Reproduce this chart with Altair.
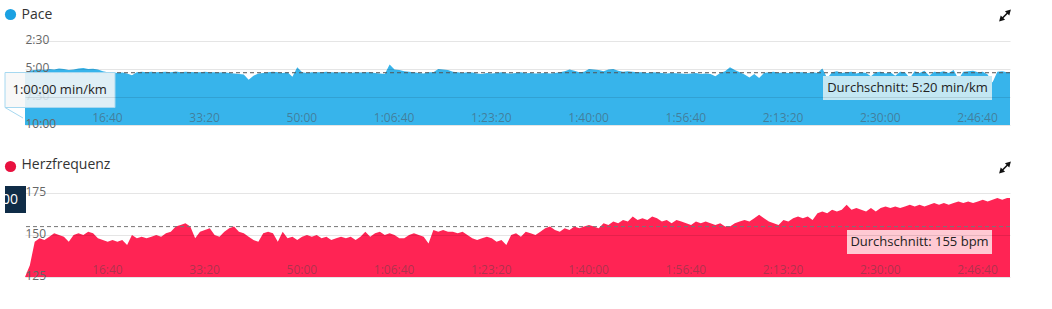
import json
import altair as alt
import pandas as pd

# ---------------- data ----------------
time_step_s = 50  # sampling step of the two series, seconds

pace_min_per_km = [
    5.30, 5.15, 5.10, 5.05, 5.10, 5.00, 5.05, 4.95, 5.00, 5.10,
    5.05, 4.95, 4.92, 5.00, 4.98, 5.05, 5.20, 5.30, 5.30, 5.35,
    5.32, 5.40, 5.55, 5.30, 5.25, 5.28, 5.25, 5.30, 5.27, 5.25,
    5.28, 5.22, 5.30, 5.25, 5.27, 5.30, 5.28, 5.25, 5.30, 5.28,
    5.32, 5.30, 5.35, 5.40, 5.45, 5.50, 5.95, 5.60, 5.40, 5.35,
    5.30, 5.25, 5.28, 5.35, 5.30, 5.70, 4.85, 5.30, 5.35, 5.30,
    5.28, 5.30, 5.25, 5.30, 5.32, 5.28, 5.30, 5.35, 5.30, 5.32,
    5.30, 5.28, 5.35, 5.40, 5.45, 4.60, 5.05, 5.10, 5.20, 5.25,
    5.30, 5.35, 5.40, 5.30, 5.28, 5.00, 5.05, 5.10, 5.25, 5.30,
    5.35, 5.30, 5.32, 5.40, 5.45, 5.35, 5.40, 5.35, 5.30, 5.38,
    5.40, 5.35, 5.30, 5.38, 5.35, 5.40, 5.38, 5.35, 5.40, 5.35,
    5.30, 5.20, 5.05, 5.15, 5.30, 5.25, 5.00, 5.05, 5.10, 5.20,
    5.05, 5.00, 5.15, 5.25, 5.20, 5.25, 5.30, 5.28, 5.35, 5.30,
    5.32, 5.35, 5.40, 5.35, 5.38, 5.40, 5.45, 5.40, 5.35, 5.45,
    5.40, 5.45, 5.65, 5.35, 5.20, 4.85, 5.10, 5.30, 5.50, 5.75,
    5.45, 5.80, 5.35, 5.30, 5.25, 5.35, 5.30, 5.35, 5.30, 5.28,
    5.30, 5.35, 5.30, 5.35, 4.95, 5.80, 5.30, 5.20, 5.35, 5.30,
    5.25, 5.40, 5.30, 5.35, 5.65, 5.30, 5.25, 5.40, 5.30, 5.60,
    5.25, 5.30, 5.80, 5.20, 5.35, 5.15, 5.60, 5.25, 5.30, 5.20,
    5.35, 5.10, 5.90, 5.25, 5.20, 5.15, 5.30, 5.25, 5.50, 6.20,
    5.25, 5.20, 5.30, 5.25,
]

heart_rate_bpm = [
    125, 132, 146, 148, 147, 149, 151, 150, 149, 146,
    150, 151, 150, 152, 151, 148, 147, 146, 147, 146,
    147, 144, 150, 148, 149, 148, 149, 150, 149, 151,
    152, 155, 156, 157, 155, 148, 152, 153, 154, 150,
    149, 152, 154, 155, 152, 151, 149, 147, 146, 151,
    152, 151, 146, 152, 148, 149, 147, 149, 150, 149,
    150, 148, 149, 147, 148, 149, 148, 149, 147, 149,
    152, 149, 151, 152, 150, 151, 150, 148, 148, 150,
    151, 150, 149, 145, 153, 152, 153, 152, 152, 151,
    152, 150, 148, 147, 148, 149, 148, 146, 147, 144,
    150, 151, 149, 152, 151, 150, 152, 154, 155, 153,
    152, 154, 153, 155, 154, 155, 156, 155, 154, 157,
    156, 158, 157, 159, 158, 161, 159, 160, 159, 161,
    160, 158, 159, 157, 159, 158, 157, 156, 158, 157,
    158, 157, 156, 157, 155, 155, 157, 158, 159, 158,
    160, 162, 160, 158, 157, 156, 159, 158, 160, 161,
    160, 161, 159, 163, 164, 163, 165, 164, 165, 168,
    165, 166, 165, 164, 166, 164, 166, 167, 166, 167,
    166, 167, 168, 167, 168, 167, 168, 169, 168, 169,
    168, 169, 170, 169, 170, 169, 170, 171, 170, 171,
    172, 171, 172, 172,
]

time_s = [i * time_step_s for i in range(len(pace_min_per_km))]

x_tick_values = [1000, 2000, 3000, 4000, 5000, 6000, 7000, 8000, 9000, 10000]
x_tick_labels = ["16:40", "33:20", "50:00", "1:06:40", "1:23:20",
                 "1:40:00", "1:56:40", "2:13:20", "2:30:00", "2:46:40"]
pace_tick_values = [2.5, 5.0, 7.5, 10.0]
pace_tick_labels = ["2:30", "5:00", "7:30", "10:00"]
pace_hidden_tick = 7.5  # label that sits behind the tooltip box
hr_tick_values = [125, 150, 175]
hr_tick_labels = ["125", "150", "175"]

pace_avg = 5 + 20 / 60
hr_avg = 155
pace_avg_label = "Durchschnitt: 5:20 min/km"
hr_avg_label = "Durchschnitt: 155 bpm"
tooltip_label = "1:00:00 min/km"

# ---------------- helpers ----------------
def key(v):
    return str(int(v)) if float(v).is_integer() else str(v)


def label_expr(values, labels):
    return json.dumps({key(v): l for v, l in zip(values, labels)}) + "[datum.value]"


FONT = "Open Sans"
W, H = 985, 84
BLUE = "#37b4eb"
RED = "#ff2454"

df = pd.DataFrame({"t": time_s, "pace": pace_min_per_km, "hr": heart_rate_bpm})
one = pd.DataFrame({"k": [0]})

x_scale = alt.Scale(domain=[0, 10130], nice=False, zero=False)


def x_axis(color, opacity):
    return alt.Axis(values=x_tick_values, labelExpr=label_expr(x_tick_values, x_tick_labels),
                    orient="bottom", domain=False, ticks=False, tickSize=0, grid=False,
                    labelAlign="right", labelBaseline="alphabetic", labelPadding=-4,
                    labelFont=FONT, labelFontSize=12, labelColor=color, labelOpacity=opacity,
                    labelFlush=False, labelOverlap=False, title=None, zindex=1)


def y_axis(values, labels, hidden=None):
    extra = {}
    if hidden is not None:
        extra["labelOpacity"] = {"condition": {"test": f"datum.value == {hidden}", "value": 0.12},
                                 "value": 1}
    return alt.Axis(values=values, labelExpr=label_expr(values, labels), orient="left",
                    domain=False, ticks=False, tickSize=0, labelPadding=0, labelAlign="left",
                    labelBaseline="middle", labelOffset=-2, grid=True, gridColor="#000000",
                    gridOpacity=0.1, labelFont=FONT, labelFontSize=12, labelColor="#666666",
                    labelFlush=False, labelOverlap=False, title=None, zindex=1, **extra)


def anchor(y):
    # 1px white mark that pins the outer bounds of the page layout
    return alt.Chart(one).mark_rect(color="white").encode(
        x=alt.value(-25), x2=alt.value(-24), y=alt.value(y), y2=alt.value(y + 1))


def header(title, dot_color, top=False):
    layers = []
    if top:
        layers.append(anchor(-41))
    layers.append(alt.Chart(one).mark_point(filled=True, color=dot_color, size=125, opacity=1).encode(
        x=alt.value(-14.5), y=alt.value(-26.5)))
    layers.append(alt.Chart(one).mark_text(text=title, font=FONT, fontSize=14, color="#333333",
                                           align="left", baseline="alphabetic").encode(
        x=alt.value(-3.5), y=alt.value(-22.5 if top else -24)))
    # expand icon
    layers.append(alt.Chart(one).mark_rule(color="#111111", strokeWidth=1.6).encode(
        x=alt.value(976), y=alt.value(-21.5), x2=alt.value(984), y2=alt.value(-29.5)))
    layers.append(alt.Chart(one).mark_point(shape="triangle-up", filled=True, color="#111111",
                                            size=38, angle=45, opacity=1).encode(
        x=alt.value(984), y=alt.value(-29.5)))
    layers.append(alt.Chart(one).mark_point(shape="triangle-up", filled=True, color="#111111",
                                            size=38, angle=225, opacity=1).encode(
        x=alt.value(976), y=alt.value(-21.5)))
    return layers


# ---------------- pace panel ----------------
pace_y_scale = alt.Scale(domain=[2.5, 10], reverse=True, nice=False, zero=False)
pace_y_axis = y_axis(pace_tick_values, pace_tick_labels, hidden=pace_hidden_tick)
pace_area = alt.Chart(df).mark_area(color=BLUE, interpolate="linear", clip=True).encode(
    x=alt.X("t:Q", scale=x_scale, axis=x_axis("#4a5a66", 0.6)),
    y=alt.Y("pace:Q", scale=pace_y_scale, axis=pace_y_axis),
    y2=alt.datum(10.0),
)
pace_avg_rule = alt.Chart(pd.DataFrame({"pace": [pace_avg]})).mark_rule(
    color="#555555", strokeDash=[4, 3], strokeWidth=1).encode(
    y=alt.Y("pace:Q", scale=pace_y_scale, axis=pace_y_axis))
pace_avg_box = alt.Chart(one).mark_rect(color="#c3e7f3").encode(
    x=alt.value(798), x2=alt.value(967), y=alt.value(35), y2=alt.value(59))
pace_avg_text = alt.Chart(one).mark_text(text=pace_avg_label, font=FONT, fontSize=13,
                                         color="#222222", align="center", baseline="middle").encode(
    x=alt.value(882.5), y=alt.value(47))
tip_box = alt.Chart(one).mark_rect(fill="#f7f7f7", fillOpacity=0.88, stroke="#a6d8f0",
                                   strokeWidth=1).encode(
    x=alt.value(-20), x2=alt.value(90), y=alt.value(31.5), y2=alt.value(66.5))
tip_ptr = alt.Chart(one).mark_rule(color="#a6d8f0", strokeWidth=1).encode(
    x=alt.value(-20), y=alt.value(66.5), x2=alt.value(-2), y2=alt.value(77))
tip_text = alt.Chart(one).mark_text(text=tooltip_label, font=FONT, fontSize=13, color="#222222",
                                    align="left", baseline="middle").encode(
    x=alt.value(-12.5), y=alt.value(49))

pace_panel = alt.layer(
    pace_area, pace_avg_rule, pace_avg_box, pace_avg_text, tip_box, tip_ptr, tip_text,
    *header("Pace", "#1ba1e2", top=True)
).properties(width=W, height=H)

# ---------------- heart-rate panel ----------------
hr_y_scale = alt.Scale(domain=[125, 175], nice=False, zero=False)
hr_y_axis = y_axis(hr_tick_values, hr_tick_labels)
hr_area = alt.Chart(df).mark_area(color=RED, interpolate="linear", clip=True).encode(
    x=alt.X("t:Q", scale=x_scale, axis=x_axis("#444444", 0.45)),
    y=alt.Y("hr:Q", scale=hr_y_scale, axis=hr_y_axis),
)
hr_avg_rule = alt.Chart(pd.DataFrame({"hr": [hr_avg]})).mark_rule(
    color="#777777", strokeDash=[4, 3], strokeWidth=1).encode(
    y=alt.Y("hr:Q", scale=hr_y_scale, axis=hr_y_axis))
hr_avg_box = alt.Chart(one).mark_rect(color="#ffc9d3").encode(
    x=alt.value(822), x2=alt.value(967), y=alt.value(37), y2=alt.value(61))
hr_avg_text = alt.Chart(one).mark_text(text=hr_avg_label, font=FONT, fontSize=13,
                                       color="#222222", align="center", baseline="middle").encode(
    x=alt.value(894.5), y=alt.value(49))
cross_box = alt.Chart(one).mark_rect(color="#0f2c47").encode(
    x=alt.value(-20), x2=alt.value(1), y=alt.value(-7), y2=alt.value(20))
cross_text = alt.Chart(one).mark_text(text="00", font=FONT, fontSize=14, color="white",
                                      align="right", baseline="middle").encode(
    x=alt.value(-7), y=alt.value(6.5))

hr_panel = alt.layer(
    hr_area, hr_avg_rule, hr_avg_box, hr_avg_text, cross_box, cross_text,
    anchor(H + 20), *header("Herzfrequenz", "#e8113f")
).properties(width=W, height=H)

chart = alt.vconcat(pace_panel, hr_panel, spacing=68, bounds="flush").properties(
    padding=0, background="white"
).configure_view(strokeWidth=0)

chart.save("out.html", embed_options={"renderer": "svg", "actions": False})
